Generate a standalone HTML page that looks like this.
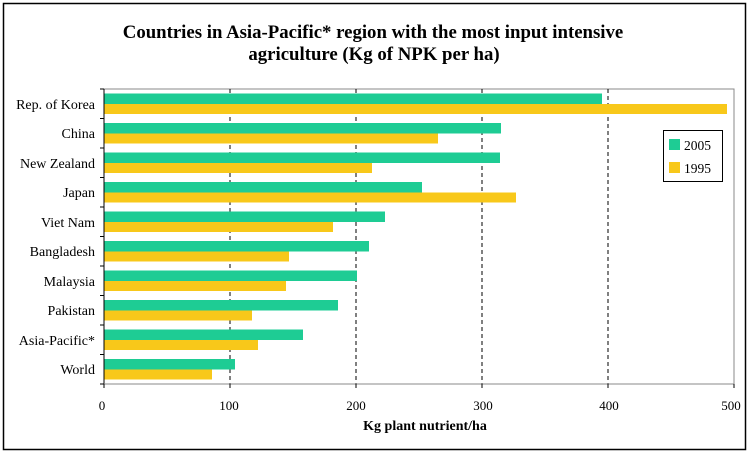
<!DOCTYPE html>
<html><head><style>
html,body{margin:0;padding:0;background:#fff;}
svg text{font-family:"Liberation Serif",serif;fill:#000;}
</style></head><body>
<svg width="749" height="454" viewBox="0 0 749 454" xmlns="http://www.w3.org/2000/svg">
<rect x="0" y="0" width="749" height="454" fill="#fff"/>
<rect x="3.5" y="3.5" width="742" height="446" fill="none" stroke="#000" stroke-width="1.5"/>
<text x="373" y="38" text-anchor="middle" font-size="18.8" font-weight="bold">Countries in Asia-Pacific* region with the most input intensive</text>
<text x="374" y="60" text-anchor="middle" font-size="18.8" font-weight="bold">agriculture (Kg of NPK per ha)</text>
<rect x="104" y="89" width="630" height="295" fill="none" stroke="#888" stroke-width="1"/>
<g stroke="#000" stroke-width="1" stroke-dasharray="4,3">
<line x1="230" y1="89" x2="230" y2="384"/>
<line x1="356" y1="89" x2="356" y2="384"/>
<line x1="482" y1="89" x2="482" y2="384"/>
<line x1="608" y1="89" x2="608" y2="384"/>
</g>
<g>
<rect x="104" y="93.5" width="498" height="10.5" fill="#1ecc94"/><rect x="104" y="104" width="623" height="10" fill="#f8c81a"/>
<rect x="104" y="123" width="397" height="10.5" fill="#1ecc94"/><rect x="104" y="133.5" width="334" height="10" fill="#f8c81a"/>
<rect x="104" y="152.5" width="396" height="10.5" fill="#1ecc94"/><rect x="104" y="163" width="268" height="10" fill="#f8c81a"/>
<rect x="104" y="182" width="318" height="10.5" fill="#1ecc94"/><rect x="104" y="192.5" width="412" height="10" fill="#f8c81a"/>
<rect x="104" y="211.5" width="281" height="10.5" fill="#1ecc94"/><rect x="104" y="222" width="229" height="10" fill="#f8c81a"/>
<rect x="104" y="241" width="265" height="10.5" fill="#1ecc94"/><rect x="104" y="251.5" width="185" height="10" fill="#f8c81a"/>
<rect x="104" y="270.5" width="253" height="10.5" fill="#1ecc94"/><rect x="104" y="281" width="182" height="10" fill="#f8c81a"/>
<rect x="104" y="300" width="234" height="10.5" fill="#1ecc94"/><rect x="104" y="310.5" width="148" height="10" fill="#f8c81a"/>
<rect x="104" y="329.5" width="199" height="10.5" fill="#1ecc94"/><rect x="104" y="340" width="154" height="10" fill="#f8c81a"/>
<rect x="104" y="359" width="131" height="10.5" fill="#1ecc94"/><rect x="104" y="369.5" width="108" height="10" fill="#f8c81a"/>
</g>
<line x1="104" y1="89" x2="104" y2="384" stroke="#000"/>
<line x1="104" y1="384" x2="734" y2="384" stroke="#888"/>
<g stroke="#000">
<line x1="100" y1="89" x2="104" y2="89"/><line x1="100" y1="118.5" x2="104" y2="118.5"/><line x1="100" y1="148" x2="104" y2="148"/><line x1="100" y1="177.5" x2="104" y2="177.5"/><line x1="100" y1="207" x2="104" y2="207"/><line x1="100" y1="236.5" x2="104" y2="236.5"/><line x1="100" y1="266" x2="104" y2="266"/><line x1="100" y1="295.5" x2="104" y2="295.5"/><line x1="100" y1="325" x2="104" y2="325"/><line x1="100" y1="354.5" x2="104" y2="354.5"/><line x1="100" y1="384" x2="104" y2="384"/>
<line x1="104" y1="384" x2="104" y2="388"/><line x1="230" y1="384" x2="230" y2="388"/><line x1="356" y1="384" x2="356" y2="388"/><line x1="482" y1="384" x2="482" y2="388"/><line x1="608" y1="384" x2="608" y2="388"/><line x1="734" y1="384" x2="734" y2="388"/>
</g>
<g font-size="14" text-anchor="end">
<text x="95" y="109">Rep. of Korea</text>
<text x="95" y="138">China</text>
<text x="95" y="168">New Zealand</text>
<text x="95" y="197">Japan</text>
<text x="95" y="227">Viet Nam</text>
<text x="95" y="256">Bangladesh</text>
<text x="95" y="286">Malaysia</text>
<text x="95" y="315">Pakistan</text>
<text x="95" y="345">Asia-Pacific*</text>
<text x="95" y="374">World</text>
</g>
<g font-size="13" text-anchor="middle">
<text x="102" y="410">0</text><text x="229" y="410">100</text><text x="356" y="410">200</text><text x="483" y="410">300</text><text x="609" y="410">400</text><text x="731" y="410">500</text>
</g>
<text x="425" y="430" text-anchor="middle" font-size="14" font-weight="bold">Kg plant nutrient/ha</text>
<rect x="663.5" y="130.5" width="59" height="51" fill="#fff" stroke="#000"/>
<rect x="669" y="139" width="11" height="11" fill="#1ecc94"/>
<text x="684" y="150" font-size="13.5">2005</text>
<rect x="669" y="162" width="11" height="11" fill="#f8c81a"/>
<text x="684" y="173" font-size="13.5">1995</text>
</svg>
</body></html>
